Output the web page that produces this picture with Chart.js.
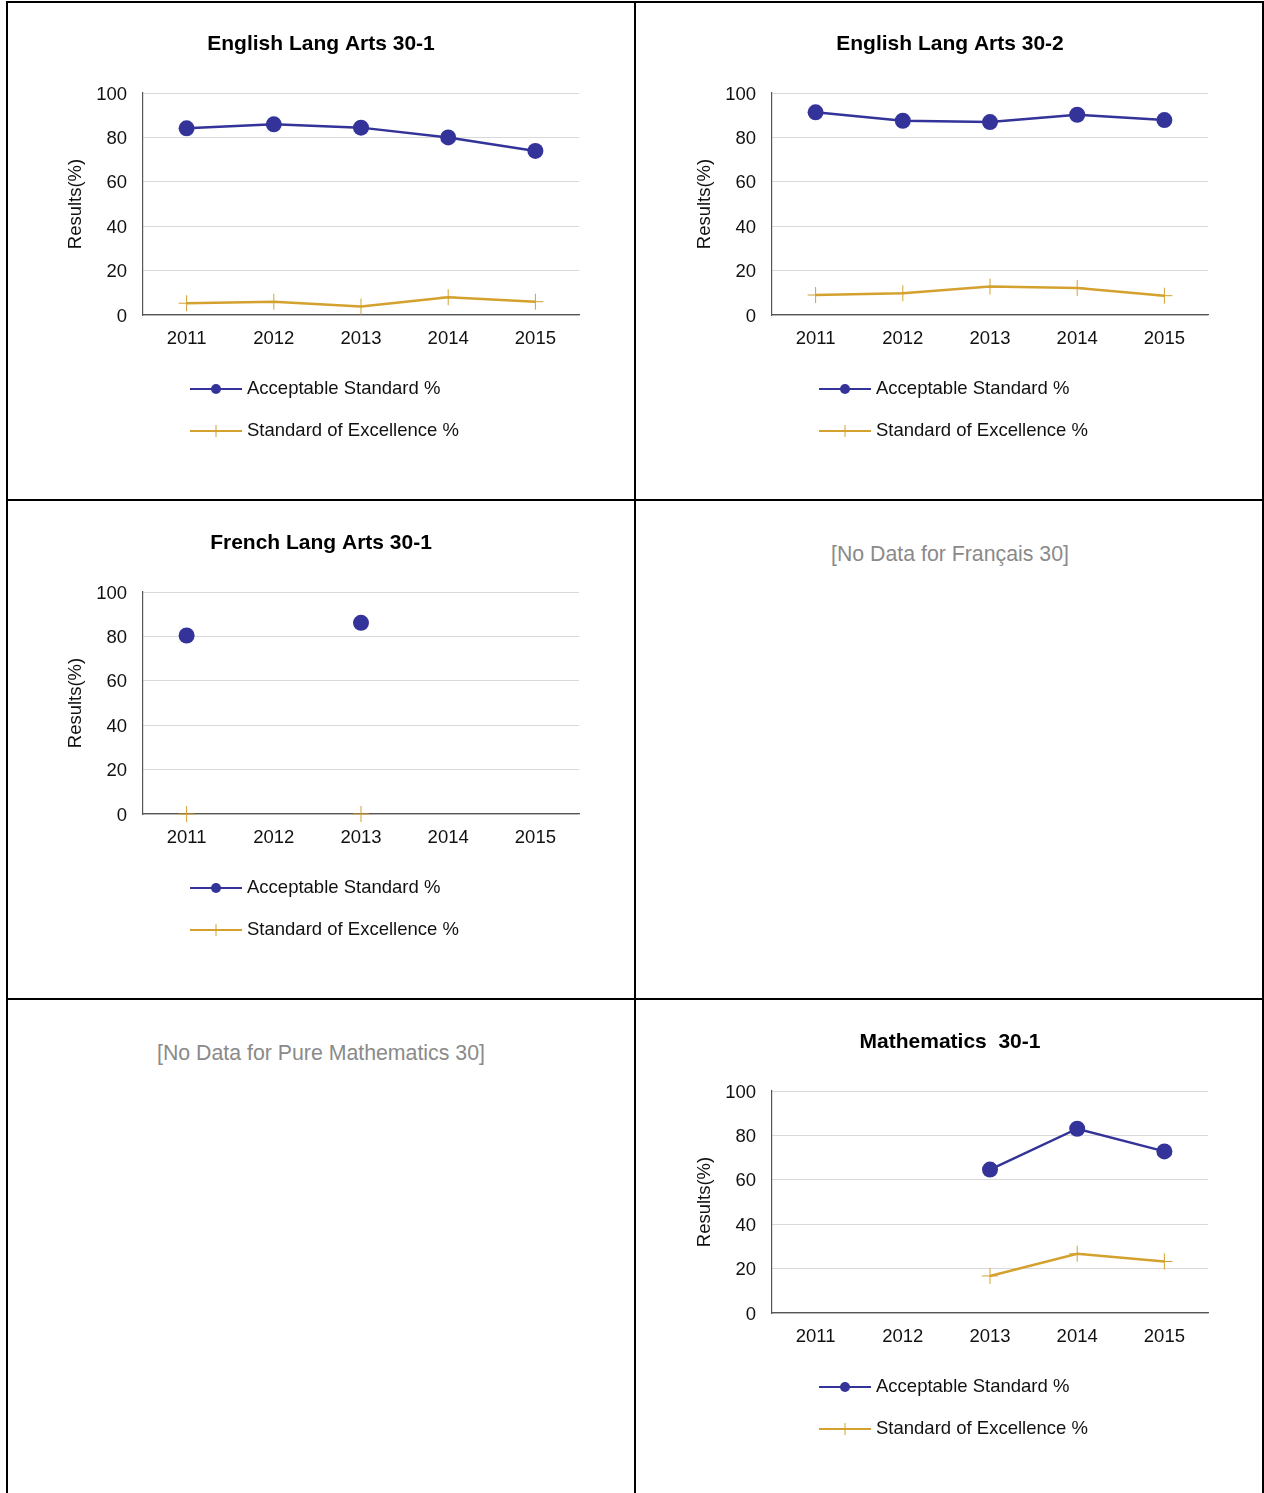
<!DOCTYPE html>
<html>
<head>
<meta charset="utf-8">
<title>Diploma Exam Results</title>
<script src="https://cdn.jsdelivr.net/npm/chart.js@4"></script>
<style>
  html, body { margin: 0; padding: 0; background: #fff; overflow: hidden; }
  body { width: 1264px; height: 1493px; position: relative; font-family: "Liberation Sans", Arial, sans-serif; }
  .rule { position: absolute; background: #000; }
  .cell { position: absolute; width: 626px; height: 495px; }
  .nodata { position: absolute; width: 626px; text-align: center; font-size: 21.3px; color: #8a8a8a; }
</style>
</head>
<body>
<div class="rule" style="left:6px;top:1px;width:1258px;height:2px"></div>
<div class="rule" style="left:6px;top:499px;width:1258px;height:2px"></div>
<div class="rule" style="left:6px;top:998px;width:1258px;height:2px"></div>
<div class="rule" style="left:6px;top:1px;width:2px;height:1492px"></div>
<div class="rule" style="left:634px;top:1px;width:2px;height:1492px"></div>
<div class="rule" style="left:1262px;top:1px;width:2px;height:1492px"></div>

<div class="cell" style="left:8px;top:3px"><canvas id="ela301"></canvas></div>
<div class="cell" style="left:637px;top:3px"><canvas id="ela302"></canvas></div>
<div class="cell" style="left:8px;top:502px"><canvas id="fla301"></canvas></div>
<div class="nodata" style="left:637px;top:542px">[No Data for Français 30]</div>
<div class="nodata" style="left:8px;top:1041px">[No Data for Pure Mathematics 30]</div>
<div class="cell" style="left:637px;top:1001px"><canvas id="math301"></canvas></div>

<script>
// School years shown on every chart
const years = ['2011', '2012', '2013', '2014', '2015'];
const yTicks = [0, 20, 40, 60, 80, 100];

// English Lang Arts 30-1
const ela301Acceptable = [84.1, 85.9, 84.4, 80.0, 73.9];
const ela301Excellence = [5.3, 6.0, 3.8, 8.0, 6.0];

// English Lang Arts 30-2
const ela302Acceptable = [91.3, 87.5, 86.9, 90.2, 87.8];
const ela302Excellence = [9.0, 9.8, 12.8, 12.2, 8.7];

// French Lang Arts 30-1
const fla301Acceptable = [80.4, null, 86.1, null, null];
const fla301Excellence = [0, null, 0, null, null];

// Mathematics 30-1
const math301Acceptable = [null, null, 64.6, 83.0, 72.8];
const math301Excellence = [null, null, 16.7, 26.7, 23.2];

const acceptableLabel = 'Acceptable Standard %';
const excellenceLabel = 'Standard of Excellence %';

const FONT = '"Liberation Sans", Arial, Helvetica, sans-serif';
const BLUE = '#333399';
const GOLD = '#d4a12f';
const TEXT_SIZE = 18.5;

Chart.defaults.font.family = FONT;
Chart.defaults.color = '#111';

// Two-row key under the plot: a short line with the series marker, then its name
const seriesKey = {
  id: 'seriesKey',
  afterDraw(chart, args, opts) {
    const ctx = chart.ctx;
    ctx.save();
    chart.data.datasets.forEach((ds, i) => {
      const y = opts.top + i * opts.rowGap;
      const x0 = opts.left, x1 = opts.left + opts.lineLength, xm = (x0 + x1) / 2;
      ctx.strokeStyle = ds.borderColor;
      ctx.lineWidth = 2;
      ctx.beginPath(); ctx.moveTo(x0, y); ctx.lineTo(x1, y); ctx.stroke();
      if (ds.pointStyle === 'circle') {
        ctx.fillStyle = ds.pointBackgroundColor;
        ctx.beginPath(); ctx.arc(xm, y, 5, 0, Math.PI * 2); ctx.fill();
      } else {
        ctx.lineWidth = 1;
        ctx.beginPath(); ctx.moveTo(xm, y - 6); ctx.lineTo(xm, y + 6); ctx.stroke();
      }
      ctx.fillStyle = '#111';
      ctx.font = TEXT_SIZE + 'px ' + FONT;
      ctx.textBaseline = 'middle';
      ctx.textAlign = 'left';
      ctx.fillText(ds.label, x1 + 5, y);
    });
    ctx.restore();
  }
};

function resultsChart(id, title, acceptable, excellence) {
  return new Chart(document.getElementById(id), {
    type: 'line',
    data: {
      labels: years,
      datasets: [
        {
          label: acceptableLabel,
          data: acceptable,
          borderColor: BLUE,
          backgroundColor: BLUE,
          borderWidth: 2.5,
          pointStyle: 'circle',
          pointRadius: 8,
          pointHoverRadius: 8,
          pointBackgroundColor: BLUE,
          pointBorderWidth: 0,
          spanGaps: false,
          clip: false
        },
        {
          label: excellenceLabel,
          data: excellence,
          borderColor: GOLD,
          backgroundColor: GOLD,
          borderWidth: 2.5,
          pointStyle: 'cross',
          pointRadius: 8,
          pointHoverRadius: 8,
          pointBorderColor: GOLD,
          pointBorderWidth: 1,
          spanGaps: false,
          clip: false
        }
      ]
    },
    options: {
      responsive: false,
      maintainAspectRatio: false,
      animation: false,
      events: [],
      layout: { padding: { left: 55, right: 55, top: 0, bottom: 143 } },
      plugins: {
        legend: { display: false },
        tooltip: { enabled: false },
        title: {
          display: true,
          text: title,
          color: '#000',
          font: { size: 21, weight: 'bold', family: FONT },
          padding: { top: 28.4, bottom: 36.4 }
        },
        seriesKey: { left: 182, top: 386, rowGap: 42, lineLength: 52 }
      },
      scales: {
        x: {
          type: 'category',
          offset: true,
          grid: { display: false, drawTicks: false },
          border: { display: true, color: '#555', width: 1.2 },
          ticks: { padding: 13, font: { size: TEXT_SIZE }, color: '#111', maxRotation: 0 },
          afterFit(scale) { scale.height = 40; }
        },
        y: {
          min: 0,
          max: 100,
          afterBuildTicks(scale) { scale.ticks = yTicks.map(v => ({ value: v })); },
          grid: { color: '#d9d9d9', lineWidth: 1, drawTicks: false },
          border: { display: true, color: '#555', width: 1.2 },
          ticks: { padding: 16, labelOffset: 1.5, font: { size: TEXT_SIZE }, color: '#111' },
          title: { display: true, text: 'Results(%)', font: { size: TEXT_SIZE }, color: '#111', padding: { top: 2, bottom: 0 } },
          afterFit(scale) { scale.width = 80; }
        }
      }
    },
    plugins: [seriesKey]
  });
}

function sizeCanvas(id) {
  const c = document.getElementById(id);
  c.width = 626; c.height = 495;
  c.style.width = '626px'; c.style.height = '495px';
}
['ela301', 'ela302', 'fla301', 'math301'].forEach(sizeCanvas);

resultsChart('ela301', 'English Lang Arts 30-1', ela301Acceptable, ela301Excellence);
resultsChart('ela302', 'English Lang Arts 30-2', ela302Acceptable, ela302Excellence);
resultsChart('fla301', 'French Lang Arts 30-1', fla301Acceptable, fla301Excellence);
resultsChart('math301', 'Mathematics  30-1', math301Acceptable, math301Excellence);
</script>
</body>
</html>
